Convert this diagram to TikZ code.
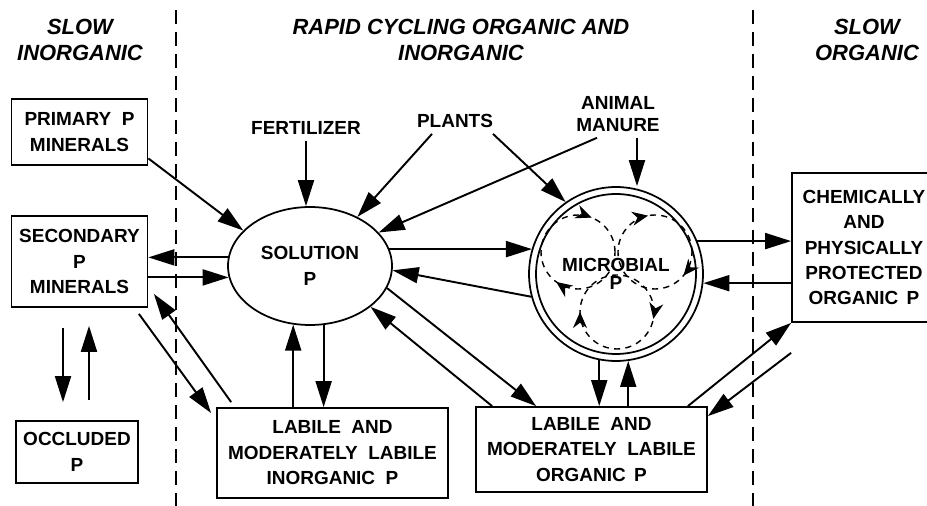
\documentclass[tikz,border=0pt]{standalone}
\usepackage{fontspec}
\setmainfont{Liberation Sans}
\usetikzlibrary{arrows.meta,shapes.geometric,decorations.markings}

\begin{document}
\begin{tikzpicture}[x=0.02cm,y=-0.02cm,
  box/.style={draw,line width=1pt,align=center,inner sep=0pt,font=\fontsize{10.8}{14.5}\selectfont\bfseries},
  lbl/.style={align=center,font=\fontsize{10.8}{14.5}\selectfont\bfseries},
  hdr/.style={align=center,font=\fontsize{12.5}{14.5}\selectfont\bfseries\itshape},
  arr/.style={line width=1.1pt,-{Triangle[length=5.2mm,width=3.2mm]}},
  gap/.style={shorten <=0.4cm,shorten >=0.36cm},
  zone/.style={line width=0.8pt,dash pattern=on 8pt off 4.5pt},
  swirl/.style={line width=0.8pt,dash pattern=on 3.5pt off 3pt,postaction={decorate}}]
  \clip (0,0) rectangle (927,506);
  % zones
  \draw[zone] (176,10) -- (176,506);
  \draw[zone] (753,10) -- (753,506);
  \node[hdr] (hslowin) at (80,40) {SLOW\\INORGANIC};
  \node[hdr] (hrapid) at (461,40) {RAPID CYCLING ORGANIC AND\\INORGANIC};
  \node[hdr] (hslowor) at (867,40) {SLOW\\ORGANIC};

  % pools
  \node[box,minimum width=2.72cm,minimum height=1.32cm] (prim) at (79.5,132) {PRIMARY\ \ P\\MINERALS};
  \node[box,minimum width=2.72cm,minimum height=1.82cm] (sec) at (79.5,261.5) {SECONDARY\\P\\MINERALS};
  \node[box,minimum width=2.44cm,minimum height=1.24cm] (occ) at (77,452) {OCCLUDED\\P};
  \node[ellipse,draw,line width=1pt,inner sep=0pt,minimum width=3.28cm,minimum height=2.36cm,lbl] (sol) at (310,266) {SOLUTION\\P};
  \node[circle,draw,line width=1pt,inner sep=0pt,minimum size=3.48cm,lbl] (mic) at (616,274) {MICROBIAL\\[-4.3pt]P};
  \draw[line width=1pt] (mic.center) circle (1.6cm);
  \foreach \dx/\dy/\pa/\pb in {-0.76/0.44/0.19/0.65, 0.78/0.44/0.28/0.89, 0.02/-0.76/0.5/0.97}
    \draw[swirl,decoration={markings,
        mark=at position \pa with {\arrowreversed{Stealth[length=3.2mm,width=2.8mm]}},
        mark=at position \pb with {\arrowreversed{Stealth[length=3.2mm,width=2.8mm]}}}]
      ([shift={(\dx cm,\dy cm)}]mic.center) circle (0.74cm);
  \node[box,minimum width=4.62cm,minimum height=1.8cm] (lin) at (332.5,453) {LABILE\ \ AND\\MODERATELY\ \ LABILE\\INORGANIC\ \ P};
  \node[box,minimum width=4.62cm,minimum height=1.7cm] (lorg) at (591.5,449.5) {LABILE\ \ AND\\MODERATELY\ \ LABILE\\ORGANIC\ \,P};
  \node[box,minimum width=2.88cm,minimum height=2.98cm] (prot) at (864,247.5) {CHEMICALLY\\AND\\PHYSICALLY\\PROTECTED\\ORGANIC\ \,P};

  % inputs
  \node[lbl] (fert) at (306,128) {FERTILIZER};
  \node[lbl] (plants) at (455,121) {PLANTS};
  \node[lbl] (manure) at (618,114) {ANIMAL\\[-2pt]MANURE};
  \draw[arr] (fert.south) -- (fert.south |- sol.north);
  \draw[arr] ([xshift=-0.46cm]plants.south) -- (sol.46);
  \draw[arr] ([xshift=0.76cm]plants.south) -- (mic.125);
  \draw[arr] ([xshift=-0.42cm]manure.south) -- (sol.26);
  \draw[arr] ([xshift=0.38cm]manure.south) -- ([xshift=0.38cm]manure.south |- mic.north);

  % minerals
  \draw[arr] (prim.-21) -- (sol.152);
  \draw[arr] (sol.174) -- (sol.174 -| sec.east);
  \draw[arr] (sol.188 -| sec.east) -- (sol.188);
  \draw[arr,gap] ([xshift=-0.33cm]sec.south) -- ([xshift=-0.33cm]sec.south |- occ.north);
  \draw[arr,gap] ([xshift=0.19cm]sec.south |- occ.north) -- ([xshift=0.19cm]sec.south);
  \draw[arr] ([xshift=-0.19cm,yshift=-0.12cm]sec.south east) -- ([xshift=-0.1cm,yshift=-0.12cm]lin.north west);
  \draw[arr] ([xshift=0.3cm,yshift=0.1cm]lin.north west) -- ([xshift=0.11cm,yshift=0.28cm]sec.south east);

  % labile pools
  \draw[arr] (sol.254 |- lin.north) -- (sol.254);
  \draw[arr] (sol.283) -- (sol.283 |- lin.north);
  \draw[arr] (sol.12) -- (sol.12 -| mic.163);
  \draw[arr] (mic.195) -- (sol.-3);
  \draw[arr] (sol.-16) -- ([xshift=1.22cm]lorg.north west);
  \draw[arr] ([xshift=0.34cm]lorg.north west) -- (sol.-34);
  \draw[arr] (mic.259) -- (mic.259 |- lorg.north);
  \draw[arr] (mic.278 |- lorg.north) -- (mic.278);

  % protected
  \draw[arr] (mic.22) -- (mic.22 -| prot.west);
  \draw[arr] (mic.-6 -| prot.west) -- (mic.-6);
  \draw[arr] ([xshift=-0.4cm]lorg.north east) -- (prot.south west);
  \draw[arr] ([yshift=-0.6cm]prot.south west) -- ([yshift=-0.2cm]lorg.north east);
\end{tikzpicture}
\end{document}
